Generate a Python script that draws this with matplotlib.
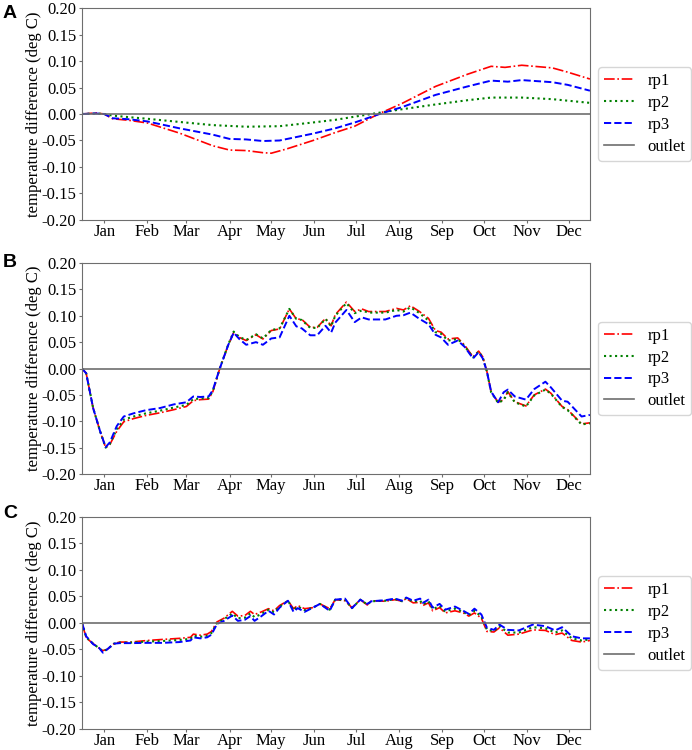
import matplotlib
matplotlib.use('Agg')
import matplotlib.pyplot as plt
from matplotlib.ticker import FormatStrFormatter

plt.rcParams['font.family'] = ['Liberation Serif', 'DejaVu Serif']
plt.rcParams['axes.unicode_minus'] = True

# month ticks (day of year) and labels
month_days = [0, 31, 59, 90, 120, 151, 181, 212, 243, 273, 304, 334]
month_names = ['Jan', 'Feb', 'Mar', 'Apr', 'May', 'Jun',
               'Jul', 'Aug', 'Sep', 'Oct', 'Nov', 'Dec']
outlet_level = 0.0

# panel A
days_a1 = [-16, -6, 0, 6, 18, 31, 54, 78, 90, 102, 114, 120, 131, 150, 166,
           180, 197, 214, 238, 261, 278, 288, 300, 322, 333, 349]
rp1_a = [0.0, 0.002, 0.0, -0.009, -0.012, -0.017, -0.036, -0.060, -0.068, -0.069,
         -0.073, -0.074, -0.066, -0.050, -0.035, -0.023, 0.0, 0.020, 0.052, 0.075,
         0.090, 0.088, 0.092, 0.087, 0.079, 0.066]
days_a3 = [-16, -6, 0, 6, 18, 31, 54, 78, 90, 102, 114, 126, 150, 166, 180,
           199, 214, 238, 261, 278, 290, 300, 322, 333, 349]
rp3_a = [0.0, 0.001, 0.0, -0.008, -0.010, -0.014, -0.027, -0.039, -0.047, -0.048,
         -0.051, -0.050, -0.037, -0.027, -0.016, 0.001, 0.013, 0.036, 0.052, 0.063,
         0.061, 0.064, 0.060, 0.055, 0.044]
days_a2 = [-16, -6, 0, 6, 18, 31, 54, 78, 102, 126, 150, 166, 180, 199, 214,
           238, 261, 278, 300, 322, 349]
rp2_a = [0.0, 0.001, 0.0, -0.003, -0.006, -0.009, -0.015, -0.021, -0.024, -0.023,
         -0.016, -0.011, -0.005, 0.003, 0.009, 0.018, 0.026, 0.031, 0.031, 0.028,
         0.021]

# panel B
days_b = [-16, -13, -8, -3, 1, 4, 9, 14, 21, 30, 40, 50, 59, 64, 69, 75, 78, 83,
          89, 93, 97, 102, 109, 114, 120, 126, 133, 138, 142, 148, 153, 159, 163,
          166, 174, 180, 185, 190, 202, 210, 215, 220, 226, 233, 238, 242, 247,
          254, 259, 265, 269, 272, 275, 278, 283, 287, 290, 295, 303, 309, 317,
          321, 329, 333, 343, 349]
rp1_b = [0.0, -0.009, -0.075, -0.119, -0.150, -0.144, -0.119, -0.101, -0.095,
         -0.089, -0.084, -0.078, -0.072, -0.061, -0.059, -0.058, -0.044, 0.0, 0.044,
         0.068, 0.059, 0.053, 0.064, 0.056, 0.072, 0.075, 0.113, 0.094, 0.093,
         0.078, 0.078, 0.095, 0.081, 0.102, 0.126, 0.108, 0.113, 0.108, 0.108,
         0.114, 0.111, 0.119, 0.109, 0.095, 0.072, 0.069, 0.056, 0.058, 0.044,
         0.022, 0.033, 0.022, -0.006, -0.044, -0.064, -0.059, -0.044, -0.063,
         -0.071, -0.050, -0.039, -0.047, -0.072, -0.078, -0.105, -0.103]
rp2_b = [0.0, -0.009, -0.075, -0.119, -0.150, -0.143, -0.115, -0.097, -0.091,
         -0.085, -0.080, -0.074, -0.069, -0.058, -0.057, -0.056, -0.043, 0.0, 0.045,
         0.070, 0.060, 0.054, 0.065, 0.057, 0.073, 0.076, 0.113, 0.094, 0.092,
         0.077, 0.077, 0.094, 0.080, 0.100, 0.124, 0.105, 0.110, 0.106, 0.106,
         0.111, 0.108, 0.116, 0.106, 0.091, 0.069, 0.066, 0.053, 0.056, 0.042,
         0.021, 0.032, 0.021, -0.006, -0.045, -0.065, -0.060, -0.045, -0.064,
         -0.072, -0.051, -0.040, -0.048, -0.073, -0.079, -0.106, -0.104]
rp3_b = [0.0, -0.009, -0.075, -0.119, -0.149, -0.140, -0.109, -0.091, -0.085,
         -0.079, -0.075, -0.068, -0.064, -0.053, -0.054, -0.053, -0.041, 0.0, 0.044,
         0.068, 0.056, 0.045, 0.050, 0.045, 0.057, 0.059, 0.100, 0.080, 0.076,
         0.063, 0.063, 0.081, 0.068, 0.087, 0.111, 0.088, 0.097, 0.093, 0.093,
         0.100, 0.101, 0.106, 0.095, 0.084, 0.064, 0.059, 0.045, 0.053, 0.041,
         0.019, 0.031, 0.019, -0.006, -0.044, -0.064, -0.045, -0.040, -0.053,
         -0.059, -0.039, -0.025, -0.036, -0.061, -0.063, -0.091, -0.088]

# panel C
days_c = [-16, -13, -8, -4, -1, 2, 7, 11, 19, 31, 42, 54, 62, 64, 69, 74, 77, 81,
          86, 92, 96, 101, 105, 108, 113, 118, 122, 126, 132, 136, 139, 144, 150,
          155, 162, 166, 173, 178, 184, 189, 192, 202, 209, 214, 217, 222, 227,
          229, 233, 236, 241, 245, 252, 258, 262, 266, 271, 275, 280, 284, 290,
          298, 308, 317, 324, 329, 336, 343, 349]
rp1_c = [0.0, -0.028, -0.039, -0.047, -0.052, -0.050, -0.039, -0.036, -0.036,
         -0.033, -0.031, -0.029, -0.027, -0.021, -0.023, -0.021, -0.016, 0.002,
         0.009, 0.022, 0.013, 0.014, 0.022, 0.016, 0.021, 0.027, 0.023, 0.033,
         0.042, 0.027, 0.033, 0.027, 0.029, 0.036, 0.027, 0.044, 0.042, 0.029,
         0.044, 0.034, 0.042, 0.041, 0.044, 0.041, 0.046, 0.038, 0.039, 0.033,
         0.038, 0.023, 0.029, 0.019, 0.023, 0.019, 0.013, 0.019, 0.009, -0.016,
         -0.017, -0.009, -0.023, -0.021, -0.013, -0.014, -0.022, -0.019, -0.033,
         -0.036, -0.033]
rp2_c = [0.0, -0.027, -0.039, -0.047, -0.053, -0.050, -0.039, -0.037, -0.037,
         -0.035, -0.034, -0.032, -0.030, -0.024, -0.026, -0.024, -0.019, 0.0,
         0.007, 0.018, 0.009, 0.010, 0.018, 0.011, 0.017, 0.025, 0.020, 0.031,
         0.042, 0.024, 0.031, 0.024, 0.029, 0.036, 0.025, 0.044, 0.044, 0.028,
         0.044, 0.035, 0.041, 0.042, 0.045, 0.041, 0.047, 0.040, 0.042, 0.035,
         0.041, 0.026, 0.032, 0.022, 0.027, 0.021, 0.015, 0.023, 0.012, -0.013,
         -0.015, -0.006, -0.018, -0.018, -0.008, -0.010, -0.018, -0.014, -0.029,
         -0.033, -0.031]
rp3_c = [0.0, -0.025, -0.040, -0.046, -0.056, -0.050, -0.039, -0.038, -0.038,
         -0.0375, -0.0375, -0.036, -0.033, -0.027, -0.029, -0.027, -0.022, -0.002,
         0.004, 0.014, 0.004, 0.006, 0.013, 0.004, 0.013, 0.023, 0.016, 0.029,
         0.042, 0.021, 0.028, 0.021, 0.029, 0.036, 0.023, 0.044, 0.046, 0.028,
         0.044, 0.036, 0.041, 0.043, 0.046, 0.042, 0.048, 0.042, 0.046, 0.038,
         0.044, 0.029, 0.036, 0.025, 0.031, 0.023, 0.017, 0.027, 0.016, -0.009,
         -0.013, -0.003, -0.013, -0.014, -0.003, -0.006, -0.014, -0.008, -0.025,
         -0.029, -0.029]

panels = [
    ('A', (days_a1, rp1_a), (days_a2, rp2_a), (days_a3, rp3_a)),
    ('B', (days_b, rp1_b), (days_b, rp2_b), (days_b, rp3_b)),
    ('C', (days_c, rp1_c), (days_c, rp2_c), (days_c, rp3_c)),
]

fig = plt.figure(figsize=(6.92, 7.5), dpi=100)
# axes boxes in figure fraction: left, bottom, width, height
boxes = [[0.1185, 0.7067, 0.734, 0.2826],
         [0.1185, 0.3680, 0.734, 0.2813],
         [0.1185, 0.0280, 0.734, 0.2827]]
letter_y = [0.994, 0.661, 0.327]

spine_col = '#6e6e6e'
for (letter, s1, s2, s3), box, ly in zip(panels, boxes, letter_y):
    ax = fig.add_axes(box)
    ax.plot(s1[0], s1[1], color='r', linestyle='-.', linewidth=1.2, label='rp1')
    ax.plot(s2[0], s2[1], color='g', linestyle=':', linewidth=1.5, label='rp2')
    ax.plot(s3[0], s3[1], color='b', linestyle='--', linewidth=1.4, label='rp3')
    ax.axhline(outlet_level, color=spine_col, linewidth=1.2, label='outlet')
    ax.set_xlim(-16, 349)
    ax.set_ylim(-0.2, 0.2)
    ax.set_yticks([-0.2, -0.15, -0.1, -0.05, 0.0, 0.05, 0.1, 0.15, 0.2])
    ax.yaxis.set_major_formatter(FormatStrFormatter('%.2f'))
    ax.set_xticks(month_days)
    ax.set_xticklabels(month_names)
    ax.tick_params(labelsize=12, color=spine_col, length=2.5)
    ax.tick_params(axis='x', pad=0.5)
    ax.tick_params(axis='y', pad=1.5)
    ax.set_ylabel('temperature difference (deg C)', fontsize=12, labelpad=0)
    for sp in ax.spines.values():
        sp.set_color(spine_col)
    ax.legend(loc='center left', bbox_to_anchor=(1.0, 0.5), fontsize=12,
              handlelength=1.8, labelspacing=0.35, borderpad=0.35)
    fig.text(0.004, ly, letter, fontsize=14, fontweight='bold',
             family=['Liberation Sans', 'DejaVu Sans'], va='top', ha='left')

fig.savefig('out.png', dpi=100)
